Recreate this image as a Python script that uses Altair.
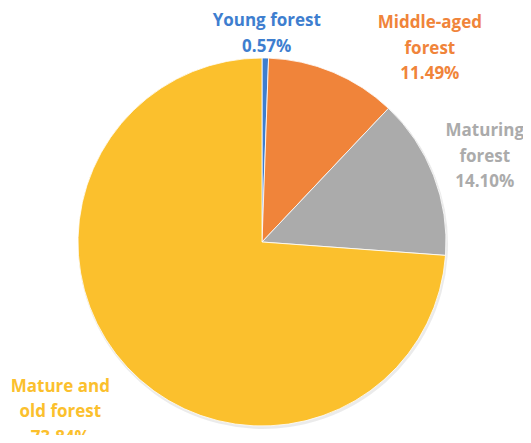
import math
import altair as alt
import pandas as pd

categories = ["Young forest", "Middle-aged forest", "Maturing forest", "Mature and old forest"]
shares = [0.57, 11.49, 14.10, 73.84]
label_lines = [
    ["Young forest", "0.57%"],
    ["Middle-aged", "forest", "11.49%"],
    ["Maturing", "forest", "14.10%"],
    ["Mature and", "old forest", "73.84%"],
]
colors = ["#3E7ECF", "#F0843A", "#ABABAB", "#FBC02D"]

df = pd.DataFrame({"cat": categories, "share": shares, "order": list(range(len(categories)))})

W, H = 515, 427
CX, CY, R = 254, 234, 184
FONT = "Open Sans"
LH = 25.5

color_scale = alt.Scale(domain=categories, range=colors)

shadow = alt.Chart(df).mark_arc(radius=R + 1, color="#000000", opacity=0.08).encode(
    theta=alt.Theta("share:Q", stack=True),
    order=alt.Order("order:Q"),
    x=alt.value(CX + 1), y=alt.value(CY + 2),
)

pie = alt.Chart(df).mark_arc(radius=R, stroke="white", strokeWidth=0.8).encode(
    theta=alt.Theta("share:Q", stack=True),
    color=alt.Color("cat:N", scale=color_scale, legend=None),
    order=alt.Order("order:Q"),
    x=alt.value(CX), y=alt.value(CY),
)

# label placement style (radius from center, pixel nudges)
label_style = [
    dict(r=208, dx=1, dy=0),
    dict(r=230, dx=79, dy=19),
    dict(r=239, dx=0, dy=1),
    dict(r=263, dx=-9, dy=-9),
]

total = sum(shares)
layers = [shadow, pie]
cum = 0.0
for i, cat in enumerate(categories):
    mid = (cum + shares[i] / 2) / total * 2 * math.pi
    cum += shares[i]
    st = label_style[i]
    n = len(label_lines[i])
    t = alt.Chart(df).transform_filter(alt.datum.cat == cat).mark_text(
        theta=mid, radius=st["r"], dx=st["dx"], dy=st["dy"] - (n - 1) * LH / 2,
        align="center", baseline="middle", font=FONT, fontSize=17,
        fontWeight="bold", lineHeight=LH, color=colors[i],
    ).encode(
        x=alt.value(CX), y=alt.value(CY),
        text=alt.value(label_lines[i]),
    )
    layers.append(t)

chart = alt.layer(*layers).properties(
    width=W, height=H, autosize=alt.AutoSizeParams(type="none"), padding=0
).configure_view(stroke=None)

chart.save("out.html", embed_options={"renderer": "svg", "actions": False})
